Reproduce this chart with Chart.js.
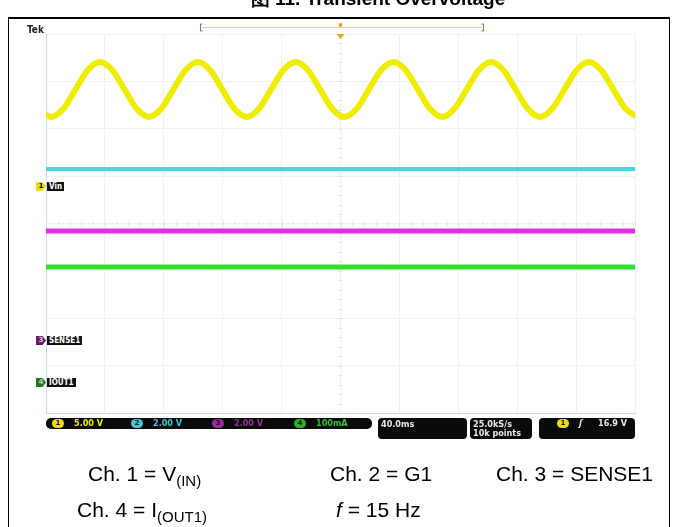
<!DOCTYPE html>
<html>
<head>
<meta charset="utf-8">
<script src="https://cdn.jsdelivr.net/npm/chart.js@4"></script>
<style>
body { margin: 0; background: #fff; width: 673px; height: 527px; overflow: hidden; position: relative;
       font-family: "Liberation Sans", Arial, sans-serif; }
#scope { position: absolute; left: 0; top: 0; }
.abs { position: absolute; white-space: nowrap; }
.line { position: absolute; background: #000; }
.title { left: 0; width: 756px; text-align: center; top: -11px; font-size: 19px; line-height: 20px; font-weight: bold; }
.cap { font-size: 21px; line-height: 21px; color: #000; }
.cap sub { font-size: 15px; vertical-align: -5px; line-height: 0; }
.tek { left: 27px; top: 24px; font: bold 10px "DejaVu Sans Condensed", sans-serif; color: #222; }
.mark { position: absolute; width: 10px; height: 9px; font: bold 7px "DejaVu Sans", sans-serif; text-align: center;
        line-height: 9px; clip-path: polygon(0 0, 65% 0, 100% 50%, 65% 100%, 0 100%); }
.tag { position: absolute; height: 9px; background: #111; color: #fff; font: bold 8px "DejaVu Sans Condensed", sans-serif;
       line-height: 9px; padding: 0 2px; }
.box { position: absolute; background: #0a0a0a; border-radius: 5px; color: #e8e8e8;
       font: bold 9px "DejaVu Sans Condensed", sans-serif; line-height: 10px; }
.badge { position: absolute; top: 1px; width: 12px; height: 9px; border-radius: 5px; color: #111; text-align: center;
         font: bold 7px "DejaVu Sans", sans-serif; line-height: 9px; }
.val { position: absolute; top: 0; }
</style>
</head>
<body>
<canvas id="scope" width="673" height="527"></canvas>
<div class="abs title">图 11. Transient Overvoltage</div>
<div class="line" style="left:8px; top:17px; width:662px; height:2px;"></div>
<div class="line" style="left:8px; top:17px; width:1px; height:510px;"></div>
<div class="line" style="left:669px; top:17px; width:1px; height:510px;"></div>
<div class="abs tek">Tek</div>
<div id="overlay"></div>
<div class="abs cap" style="left:88px; top:463px;">Ch. 1 = V<sub>(IN)</sub></div>
<div class="abs cap" style="left:330px; top:463px;">Ch. 2 = G1</div>
<div class="abs cap" style="left:496px; top:463px;">Ch. 3 = SENSE1</div>
<div class="abs cap" style="left:77px; top:499px;">Ch. 4 = I<sub>(OUT1)</sub></div>
<div class="abs cap" style="left:336px; top:499px;"><i>f</i> = 15 Hz</div>
<script>
// time of each sample (ms, trigger at 0) and Vin
const timeMs = [-204.8, -196.5, -188.2, -179.9, -171.6, -163.3, -155.0, -146.7, -138.4, -130.1,
    -121.8, -113.5, -105.2, -96.9, -88.6, -80.3, -72.0, -63.7, -55.4, -47.1,
    -38.8, -30.5, -22.2, -13.9, -5.6, 2.7, 11.0, 19.3, 27.6, 35.9,
    44.2, 52.5, 60.8, 69.1, 77.4, 85.7, 94.0, 102.3, 110.6, 118.9,
    127.2, 135.5, 143.8, 152.1, 160.4, 168.7, 177.0, 185.3, 193.6, 201.9];
const vinVolts = [8.15, 7.3, 8.15, 10.2, 12.25, 13.1, 12.25, 10.2, 8.15, 7.3,
    8.15, 10.2, 12.25, 13.1, 12.25, 10.2, 8.15, 7.3, 8.15, 10.2,
    12.25, 13.1, 12.25, 10.2, 8.15, 7.3, 8.15, 10.2, 12.25, 13.1,
    12.25, 10.2, 8.15, 7.3, 8.15, 10.2, 12.25, 13.1, 12.25, 10.2,
    8.15, 7.3, 8.15, 10.2, 12.25, 13.1, 12.25, 10.2, 8.15, 7.3];
const flatTimeMs = [-200, 200];
const g1Volts = [10.3, 10.3];
const sense1Volts = [4.6, 4.6];
const iout1mA = [242, 242];

const channelNames = ['Vin', 'G1', 'SENSE1', 'IOUT1'];
const perDiv = [5, 2, 2, 100];
const offsetDiv = [0.79, -4, -2.46, -3.34];
const scaleLabels = ['5.00 V', '2.00 V', '2.00 V', '100mA'];
const timeLabel = '40.0ms';
const rateLabels = ['25.0kS/s', '10k points'];
const triggerLabel = '16.9 V';

const traceColors = ['#f0ec00', '#44d8e0', '#e030e0', '#30e030'];
const textColors = ['#f0ec00', '#3cc8d0', '#98309a', '#30c030'];
const markColors = ['#e8e000', '#40c8d0', '#6a1a6a', '#1f7a1f'];

function pts(times, values, ch) {
    return times.map((t, i) => ({ x: t, y: values[i] / perDiv[ch] + offsetDiv[ch] }));
}

const graticule = {
    id: 'graticule',
    beforeDatasetsDraw(chart) {
        const { ctx, chartArea: a, scales } = chart;
        const cx = scales.x.getPixelForValue(0), cy = scales.y.getPixelForValue(0);
        ctx.save();
        ctx.strokeStyle = '#dde1ea';
        ctx.lineWidth = 1;
        ctx.beginPath();
        for (let v = -4; v <= 4; v += 0.2) {
            const y = Math.round(scales.y.getPixelForValue(v)) + 0.5;
            ctx.moveTo(cx - 2, y); ctx.lineTo(cx + 2, y);
        }
        for (let t = -200; t <= 200; t += 8) {
            const x = Math.round(scales.x.getPixelForValue(t)) + 0.5;
            ctx.moveTo(x, cy - 2); ctx.lineTo(x, cy + 2);
        }
        ctx.stroke();
        // trigger position marker
        ctx.fillStyle = '#f0a020';
        ctx.beginPath();
        ctx.moveTo(cx - 4, a.top); ctx.lineTo(cx + 4, a.top); ctx.lineTo(cx, a.top + 5);
        ctx.fill();
        ctx.beginPath();
        ctx.arc(cx, 25, 2, 0, Math.PI * 2);
        ctx.fill();
        // record bar
        ctx.strokeStyle = '#e8e040';
        ctx.beginPath(); ctx.moveTo(202, 27.5); ctx.lineTo(482, 27.5); ctx.stroke();
        ctx.strokeStyle = '#777';
        ctx.beginPath();
        ctx.moveTo(202.5, 24); ctx.lineTo(200.5, 24); ctx.lineTo(200.5, 31); ctx.lineTo(202.5, 31);
        ctx.moveTo(481.5, 24); ctx.lineTo(483.5, 24); ctx.lineTo(483.5, 31); ctx.lineTo(481.5, 31);
        ctx.stroke();
        ctx.restore();
    }
};

const chart = new Chart(document.getElementById('scope'), {
    type: 'line',
    data: {
        datasets: [
            { data: pts(timeMs, vinVolts, 0), borderColor: traceColors[0], borderWidth: 6, cubicInterpolationMode: 'monotone' },
            { data: pts(flatTimeMs, g1Volts, 1), borderColor: traceColors[1], borderWidth: 4 },
            { data: pts(flatTimeMs, sense1Volts, 2), borderColor: traceColors[2], borderWidth: 5 },
            { data: pts(flatTimeMs, iout1mA, 3), borderColor: traceColors[3], borderWidth: 5 }
        ]
    },
    options: {
        responsive: false,
        animation: false,
        devicePixelRatio: 1,
        layout: { padding: { left: 46, right: 38, top: 34, bottom: 114 } },
        elements: { point: { radius: 0 } },
        plugins: { legend: { display: false }, tooltip: { enabled: false } },
        scales: {
            x: {
                type: 'linear', min: -200, max: 200,
                ticks: { display: false, stepSize: 40 },
                grid: { color: '#eef0f5', drawTicks: false, tickLength: 0 },
                border: { color: '#cdd8ea' }
            },
            y: {
                min: -4, max: 4,
                ticks: { display: false, stepSize: 1 },
                grid: { color: '#eef0f5', drawTicks: false, tickLength: 0 },
                border: { color: '#cdd8ea' }
            }
        }
    },
    plugins: [graticule]
});

// channel ground markers on the left edge and the readout bar
const overlay = document.getElementById('overlay');
const area = chart.chartArea;
[0, 2, 3].forEach(ch => {
    const y = Math.round(chart.scales.y.getPixelForValue(offsetDiv[ch]));
    const m = document.createElement('div');
    m.className = 'mark';
    m.style.left = (area.left - 10) + 'px';
    m.style.top = (y - 4) + 'px';
    m.style.background = markColors[ch];
    m.style.color = ch === 0 ? '#111' : '#ccc';
    m.textContent = ch + 1;
    overlay.appendChild(m);
    const t = document.createElement('div');
    t.className = 'tag';
    t.style.left = (area.left + 1) + 'px';
    t.style.top = (y - 4) + 'px';
    t.textContent = channelNames[ch];
    overlay.appendChild(t);
});

const barTop = area.bottom + 5;
const chanBox = document.createElement('div');
chanBox.className = 'box';
chanBox.style.cssText = `left:${area.left}px; top:${barTop}px; width:326px; height:11px;`;
const badgeX = [6, 85, 166, 248];
const badgeColors = ['#e8e000', '#40c8d0', '#a028a8', '#28b028'];
scaleLabels.forEach((s, i) => {
    const b = document.createElement('div');
    b.className = 'badge';
    b.style.left = badgeX[i] + 'px';
    b.style.background = badgeColors[i];
    b.textContent = i + 1;
    chanBox.appendChild(b);
    const v = document.createElement('div');
    v.className = 'val';
    v.style.left = (badgeX[i] + 22) + 'px';
    v.style.color = textColors[i];
    v.textContent = s;
    chanBox.appendChild(v);
});
overlay.appendChild(chanBox);

const timeBox = document.createElement('div');
timeBox.className = 'box';
timeBox.style.cssText = `left:378px; top:${barTop}px; width:89px; height:21px; border-radius:4px;`;
timeBox.innerHTML = `<div class="val" style="left:3px; top:1px;">${timeLabel}</div>`;
overlay.appendChild(timeBox);

const rateBox = document.createElement('div');
rateBox.className = 'box';
rateBox.style.cssText = `left:470px; top:${barTop}px; width:62px; height:21px; border-radius:4px;`;
rateBox.innerHTML = `<div class="val" style="left:3px; top:1px;">${rateLabels[0]}</div>` +
    `<div class="val" style="left:3px; top:10px;">${rateLabels[1]}</div>`;
overlay.appendChild(rateBox);

const trigBox = document.createElement('div');
trigBox.className = 'box';
trigBox.style.cssText = `left:539px; top:${barTop}px; width:96px; height:21px; border-radius:4px;`;
trigBox.innerHTML = `<div class="badge" style="left:18px; top:1px; background:${badgeColors[0]};">1</div>` +
    `<div class="val" style="left:40px; top:0px; font-style:italic;">ʃ</div>` +
    `<div class="val" style="left:59px; top:0px;">${triggerLabel}</div>`;
overlay.appendChild(trigBox);
</script>
</body>
</html>
